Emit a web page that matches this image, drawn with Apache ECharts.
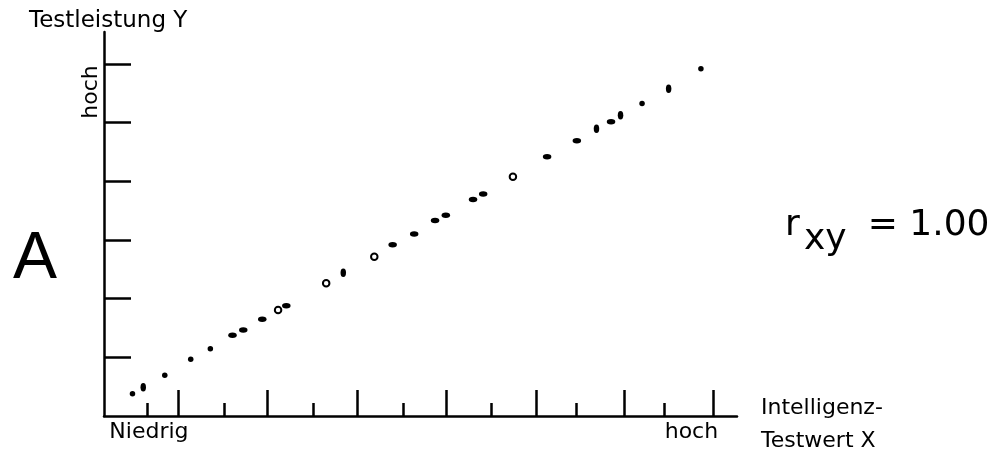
<!DOCTYPE html>
<html><head><meta charset="utf-8">
<script src="https://cdn.jsdelivr.net/npm/echarts@6/dist/echarts.min.js"></script>
<style>html,body{margin:0;padding:0;background:#fff}#c{width:993px;height:449px}</style>
</head><body><div id="c"></div>
<script>
// Data (x: intelligence score 0-100, y: test performance 0-100)
const dotPoints = [[4.5,5.8],[9.6,10.6],[13.7,14.8],[16.8,17.5],[85.0,81.4],[94.3,90.4]];
const wideEllipsePoints = [[20.3,21.0],[22.0,22.4],[25.0,25.2],[28.8,28.7],[45.6,44.6],[49.0,47.4],[52.3,50.9],[54.0,52.3],[58.3,56.4],[59.9,57.8],[70.0,67.5],[74.7,71.7],[80.1,76.6]];
const tallEllipsePoints = [[6.2,7.5],[37.8,37.3],[77.8,74.8],[81.6,78.3],[89.2,85.2]];
const ringPoints = [[27.5,27.6],[35.1,34.6],[42.7,41.5],[64.6,62.3]];
const xLongTicks = [11.8, 25.8, 40.0, 54.0, 68.3, 82.2, 96.2];
const xShortTicks = [6.8, 19.0, 33.0, 47.2, 61.1, 74.6, 88.5];
const yTicks = [15.3, 30.6, 45.8, 61.1, 76.4, 91.7];
const xLabelValues = [7.1, 92.8];
const xLabelTexts = ['Niedrig', 'hoch'];
const yLabelText = 'hoch';
const yTitle = 'Testleistung Y';
const xTitle = 'Intelligenz-\nTestwert X';
const panelLetter = 'A';
const corrText = '= 1.00';

const FONT = '"DejaVu Sans", sans-serif';
const black = '#000';
const lineW = 2.5;

function labelFor(v) {
  let best = 0, d = Infinity;
  xLabelValues.forEach((lv, i) => { if (Math.abs(lv - v) < d) { d = Math.abs(lv - v); best = i; } });
  return xLabelTexts[best];
}

const chart = echarts.init(document.getElementById('c'), null, {renderer: 'canvas'});
const scatterBase = {type: 'scatter', symbol: 'circle', silent: true, itemStyle: {color: black, opacity: 1}, xAxisIndex: 0, yAxisIndex: 0};
chart.setOption({
  animation: false,
  backgroundColor: '#fff',
  grid: {left: 104, right: 256, top: 32, bottom: 33, containLabel: false},
  xAxis: [
    {
      type: 'value', min: 0, max: 100, position: 'bottom',
      axisLine: {show: true, onZero: false, lineStyle: {color: black, width: lineW}},
      axisTick: {show: true, inside: true, length: 26, customValues: xLongTicks, lineStyle: {color: black, width: lineW}},
      axisLabel: {show: true, customValues: xLabelValues, formatter: labelFor, margin: 5,
        fontFamily: FONT, fontSize: 22, color: black},
      splitLine: {show: false}
    },
    {
      type: 'value', min: 0, max: 100, position: 'bottom',
      axisLine: {show: false, onZero: false},
      axisTick: {show: true, inside: true, length: 13, customValues: xShortTicks, lineStyle: {color: black, width: lineW}},
      axisLabel: {show: false},
      splitLine: {show: false}
    }
  ],
  yAxis: {
    type: 'value', min: 0, max: 100,
    axisLine: {show: true, onZero: false, lineStyle: {color: black, width: lineW}},
    axisTick: {show: true, inside: true, length: 27, customValues: yTicks, lineStyle: {color: black, width: lineW}},
    axisLabel: {show: false},
    splitLine: {show: false}
  },
  series: [
    Object.assign({}, scatterBase, {data: dotPoints, symbolSize: 5.5}),
    Object.assign({}, scatterBase, {data: wideEllipsePoints, symbolSize: [8.5, 5.5]}),
    Object.assign({}, scatterBase, {data: tallEllipsePoints, symbolSize: [5.5, 8.5]}),
    Object.assign({}, scatterBase, {data: ringPoints, symbolSize: 6.5,
      itemStyle: {color: '#fff', borderColor: black, borderWidth: 2, opacity: 1}})
  ],
  graphic: [
    {type: 'text', x: 29, y: 21.5, silent: true,
      style: {text: yTitle, fontFamily: FONT, fontSize: 23, fill: black, align: 'left', verticalAlign: 'middle'}},
    {type: 'text', x: 91.5, y: 92, rotation: Math.PI / 2, silent: true,
      style: {text: yLabelText, fontFamily: FONT, fontSize: 22, fill: black, align: 'center', verticalAlign: 'middle'}},
    {type: 'text', x: 35, y: 259.5, silent: true,
      style: {text: panelLetter, fontFamily: '"Liberation Sans", Arial, sans-serif', fontSize: 66, fill: black, align: 'center', verticalAlign: 'middle'}},
    {type: 'text', x: 761, y: 392, silent: true,
      style: {text: xTitle, fontFamily: FONT, fontSize: 22, lineHeight: 33, fill: black, align: 'left', verticalAlign: 'top'}},
    {type: 'text', x: 785, y: 226, silent: true,
      style: {text: 'r', fontFamily: FONT, fontSize: 36, fill: black, align: 'left', verticalAlign: 'middle'}},
    {type: 'text', x: 804, y: 239.3, silent: true,
      style: {text: 'xy', fontFamily: FONT, fontSize: 36, fill: black, align: 'left', verticalAlign: 'middle'}},
    {type: 'text', x: 989.5, y: 226, silent: true,
      style: {text: corrText, fontFamily: FONT, fontSize: 36, fill: black, align: 'right', verticalAlign: 'middle'}}
  ]
});
</script>
</body></html>
